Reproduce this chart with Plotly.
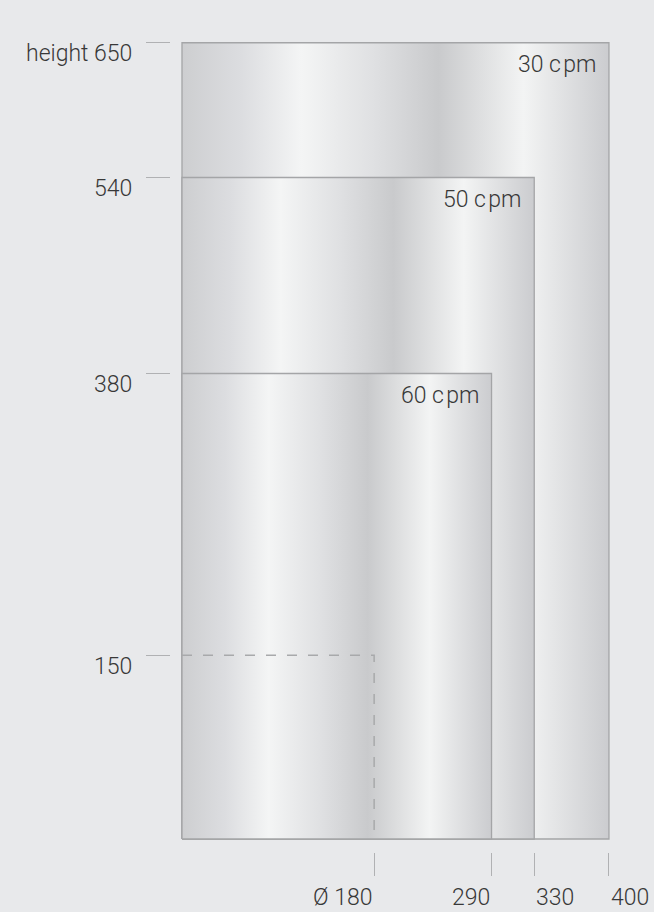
import plotly.graph_objects as go

# ---- data ----
speed_labels = ["30 cpm", "50 cpm", "60 cpm"]
diameters = [400, 330, 290]          # max diameter per speed
heights = [650, 540, 380]            # max height per speed
min_diameter = 180
min_height = 150

x_tick_vals = [180, 290, 330, 400]
x_tick_text = ["Ø 180", "290", "330", "400"]
y_tick_vals = [650, 540, 380, 150]
y_tick_text = ["height 650", "540", "380", "150"]

# ---- styles ----
BG = "#e8e9eb"
EDGE = "#a4a5a7"
TICK = "#b0b1b3"
TEXT = "#383838"
FONT = "Roboto"
metal = [[0.0, "#cdced0"], [0.14, "#dcdde0"], [0.28, "#f4f5f5"], [0.45, "#dfe0e2"],
         [0.60, "#c9cacc"], [0.80, "#f3f4f4"], [1.0, "#cbcccf"]]

fig = go.Figure()

for lab, w, h in zip(speed_labels, diameters, heights):
    fig.add_trace(go.Scatter(
        x=[0, 0, w, w, 0], y=[0, h, h, 0, 0],
        mode="lines", fill="toself",
        fillgradient=dict(type="horizontal", colorscale=metal),
        line=dict(color=EDGE, width=1.3),
        hoverinfo="skip", showlegend=False, name=lab))
    fig.add_annotation(x=w, y=h, xref="x", yref="y",
                       text=lab.replace("cpm", "c\u200apm"),
                       showarrow=False, xanchor="right", yanchor="middle",
                       xshift=-11, yshift=-22,
                       font=dict(family=FONT, size=23, color=TEXT, weight=300))

# minimum format dashed outline
fig.add_trace(go.Scatter(
    x=[0, min_diameter, min_diameter], y=[min_height, min_height, 0],
    mode="lines", line=dict(color="#a8a9ab", width=1.5, dash="10px,11px"),
    hoverinfo="skip", showlegend=False))

# axis labels as annotations (mixed alignment in the reference)
for v, t in zip(x_tick_vals, x_tick_text):
    anchor = "right" if v < 300 else "left"
    fig.add_annotation(x=v, y=0, xref="x", yref="paper", text=t, showarrow=False,
                       xanchor=anchor, yanchor="middle", yshift=-45,
                       font=dict(family=FONT, size=23, color=TEXT, weight=300))
for v, t in zip(y_tick_vals, y_tick_text):
    fig.add_annotation(x=0, y=v, xref="paper", yref="y", text=t, showarrow=False,
                       xanchor="right", yanchor="middle", xshift=-37, yshift=-11,
                       font=dict(family=FONT, size=23, color=TEXT, weight=300))

fig.update_layout(
    width=654, height=912,
    margin=dict(l=171, r=0, t=0, b=60),
    paper_bgcolor=BG, plot_bgcolor=BG,
    showlegend=False,
)
fig.update_xaxes(range=[-10.3, 442.2], showgrid=False, zeroline=False, showline=False,
                 tickvals=x_tick_vals, showticklabels=False,
                 ticks="outside", ticklen=23, tickcolor=TICK, tickwidth=1)
fig.update_yaxes(range=[-10.6, 684.9], showgrid=False, zeroline=False, showline=False,
                 tickvals=y_tick_vals, showticklabels=False,
                 ticks="outside", ticklen=24, tickcolor=TICK, tickwidth=1)

fig.write_html("out.html",
               config={"displayModeBar": False, "staticPlot": True},
               post_script="document.body.style.margin='0';"
                           "document.body.style.background='%s';"
                           "document.body.style.overflow='hidden';" % BG)
